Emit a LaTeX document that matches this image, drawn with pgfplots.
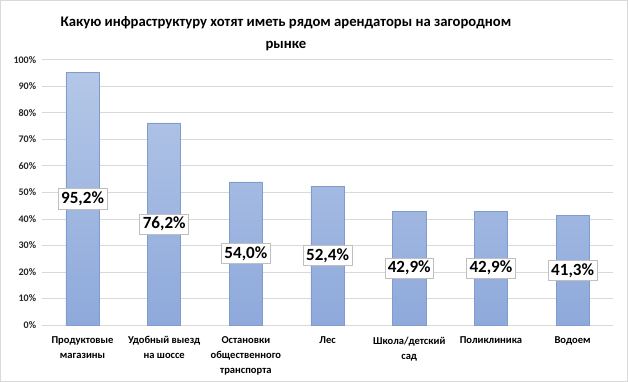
\documentclass[border=0pt]{standalone}
\usepackage{pgfplots}
\pgfplotsset{compat=1.18}
\usepackage{fontspec}
\setmainfont{Carlito}
\usetikzlibrary{calc}
\definecolor{bartop}{HTML}{B4C7E7}
\definecolor{barbot}{HTML}{8EA9DB}
\definecolor{baredge}{HTML}{7F9DCC}
\definecolor{gridc}{HTML}{D9D9D9}
\begin{document}
\begin{tikzpicture}[x=1pt,y=1pt]
\begin{axis}[
  name=ax,
  scale only axis,
  width=569pt, height=264pt,
  ymin=0, ymax=100,
  xmin=-0.5, xmax=6.5,
  ytick={0,10,...,100},
  yticklabel={\pgfmathprintnumber{\tick}\%},
  yticklabel style={font=\bfseries\fontsize{10}{12}\selectfont, text=black!85, xshift=-2pt},
  /pgf/number format/assume math mode=true,
  xtick={0,...,6},
  xticklabels={{Продуктовые\\магазины},{Удобный выезд\\на шоссе},{Остановки\\общественного\\транспорта},{Лес},{Школа/детский\\сад},{Поликлиника},{Водоем}},
  xticklabel style={font=\bfseries\fontsize{10.5}{15}\selectfont, align=center, anchor=north, yshift=-8pt},
  major tick length=0pt,
  ymajorgrids, grid style={gridc, line width=0.8pt},
  axis x line*=bottom, axis y line*=left,
  x axis line style={gridc, line width=0.8pt, -},
  y axis line style={draw=none},
  ybar, bar width=33pt,
  nodes near coords={\pgfmathprintnumber[fixed, fixed zerofill, precision=1, use comma]{\pgfplotspointmeta}\%},
  visualization depends on={rawy \as \rawy},
  every node near coord/.append style={
    font=\bfseries\fontsize{17}{19}\selectfont, anchor=center,
    fill=white, draw=black!25, inner sep=3pt,
    shift={(axis direction cs:0,-\rawy/2)}},
  clip=false,
]
\addplot[draw=baredge, top color=bartop, bottom color=barbot, line width=0.6pt] coordinates {
  (0,95.2) (1,76.2) (2,54.0) (3,52.4) (4,42.9) (5,42.9) (6,41.3)};
\end{axis}
\node[font=\bfseries\fontsize{14.6}{22}\selectfont, align=center] at ($(ax.north west)+(243pt,26pt)$)
  {Какую инфраструктуру хотят иметь рядом арендаторы на загородном\\рынке};
\draw[gridc, line width=1pt] ($(ax.south west)+(-41pt,-56pt)$) rectangle ($(ax.north east)+(14pt,59pt)$);
\end{tikzpicture}
\end{document}
